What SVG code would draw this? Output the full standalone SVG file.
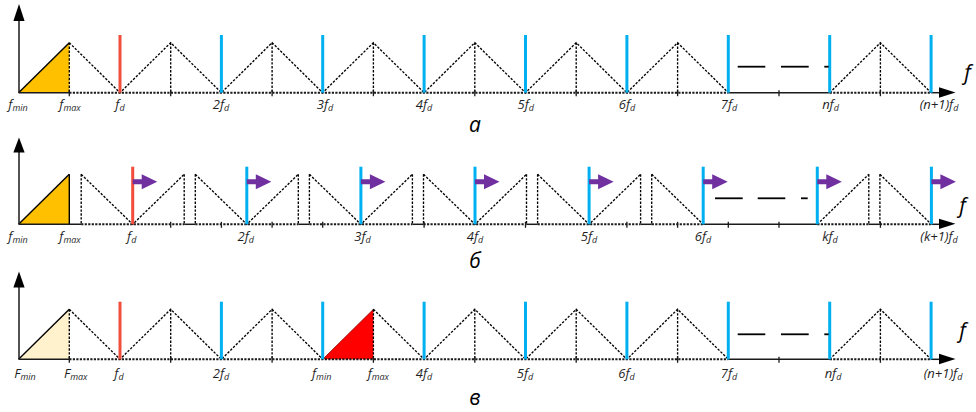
<svg xmlns="http://www.w3.org/2000/svg" width="976" height="412" viewBox="0 0 976 412">
<style>
.ax{stroke:#1a1a1a;stroke-width:1.5;fill:none}
.axd{stroke:#1a1a1a;stroke-width:1.9;stroke-dasharray:2.2 1.3;fill:none}
.dot{stroke:#000;stroke-width:1.35;stroke-dasharray:2.4 1.5;fill:none}
.hyp{stroke:#000;stroke-width:1.4;fill:none}
.tick{stroke:#1a1a1a;stroke-width:1.3}
.blue{stroke:#00B0F0;stroke-width:3}
.red{stroke:#F24C3A;stroke-width:3}
.dash{stroke:#000;stroke-width:1.8}
.pa{fill:#7030A0}
.ah{fill:#000}
.lb{font-family:"Open Sans","Noto Sans","Liberation Sans",sans-serif;font-style:italic;font-size:13px;fill:#1f1f1f;text-anchor:middle}
.lb tspan.s{font-size:9px}
.bf{font-family:"Open Sans","Noto Sans","Liberation Sans",sans-serif;font-style:italic;font-size:21px;fill:#000;text-anchor:middle}
.cap{font-family:"Open Sans","Noto Sans","Liberation Sans",sans-serif;font-style:italic;font-size:21px;fill:#000;text-anchor:middle}
</style>

<!-- Row a -->
<g id="row-a">
  <polygon points="18.6,92.7 69.3,42.7 69.3,92.7" fill="#FFC000"/>
  <line class="hyp" x1="18.6" y1="92.7" x2="69.3" y2="42.7"/>
  <polyline class="dot" points="69.3,42.7 120,92.7 170.7,42.7 221.4,92.7 272.1,42.7 322.7,92.7 373.4,42.7 424.1,92.7 474.8,42.7 525.5,92.7 576.2,42.7 626.9,92.7 677.6,42.7 728.3,92.7"/>
  <polyline class="dot" points="829.7,92.7 880.4,42.7 931.1,92.7"/>
  <g class="dot">
    <line x1="69.3" y1="42.7" x2="69.3" y2="92.7"/><line x1="170.7" y1="42.7" x2="170.7" y2="92.7"/>
    <line x1="272.1" y1="42.7" x2="272.1" y2="92.7"/><line x1="373.4" y1="42.7" x2="373.4" y2="92.7"/>
    <line x1="474.8" y1="42.7" x2="474.8" y2="92.7"/><line x1="576.2" y1="42.7" x2="576.2" y2="92.7"/>
    <line x1="677.6" y1="42.7" x2="677.6" y2="92.7"/><line x1="880.4" y1="42.7" x2="880.4" y2="92.7"/>
  </g>
  <line class="ax" x1="19" y1="92.7" x2="19" y2="20"/>
  <polygon class="ah" points="19,4 13.4,21 24.6,21"/>
  <line class="ax" x1="18.6" y1="92.7" x2="69.3" y2="92.7"/>
  <line class="axd" x1="69.3" y1="92.7" x2="728.3" y2="92.7"/>
  <line class="ax" x1="728.3" y1="92.7" x2="829.7" y2="92.7"/>
  <line class="axd" x1="829.7" y1="92.7" x2="931.1" y2="92.7"/>
  <line class="ax" x1="931.1" y1="92.7" x2="941" y2="92.7"/>
  <polygon class="ah" points="955.5,92.5 939,87.3 939,97.7"/>
  <g class="tick">
    <line x1="69.3" y1="90.2" x2="69.3" y2="96.2"/><line x1="170.7" y1="90.2" x2="170.7" y2="96.2"/>
    <line x1="272.1" y1="90.2" x2="272.1" y2="96.2"/><line x1="373.4" y1="90.2" x2="373.4" y2="96.2"/>
    <line x1="474.8" y1="90.2" x2="474.8" y2="96.2"/><line x1="576.2" y1="90.2" x2="576.2" y2="96.2"/>
    <line x1="677.6" y1="90.2" x2="677.6" y2="96.2"/><line x1="779" y1="90.2" x2="779" y2="96.2"/>
    <line x1="880.4" y1="90.2" x2="880.4" y2="96.2"/>
  </g>
  <line class="red" x1="120" y1="35" x2="120" y2="92.7"/>
  <g class="blue">
    <line x1="221.4" y1="35" x2="221.4" y2="92.7"/><line x1="322.7" y1="35" x2="322.7" y2="92.7"/>
    <line x1="424.1" y1="35" x2="424.1" y2="92.7"/><line x1="525.5" y1="35" x2="525.5" y2="92.7"/>
    <line x1="626.9" y1="35" x2="626.9" y2="92.7"/><line x1="728.3" y1="35" x2="728.3" y2="92.7"/>
    <line x1="829.7" y1="35" x2="829.7" y2="92.7"/><line x1="931.1" y1="35" x2="931.1" y2="92.7"/>
  </g>
  <g class="dash">
    <line x1="737.7" y1="66.7" x2="765.3" y2="66.7"/><line x1="781" y1="66.7" x2="808.7" y2="66.7"/><line x1="824.3" y1="66.7" x2="828.7" y2="66.7"/>
  </g>
  <text class="bf" x="967.5" y="80">f</text>
  <text class="lb" x="18" y="109">f<tspan class="s" dy="2">min</tspan></text>
  <text class="lb" x="70" y="109">f<tspan class="s" dy="2">max</tspan></text>
  <text class="lb" x="120" y="109">f<tspan class="s" dy="2">d</tspan></text>
  <text class="lb" x="221" y="109">2f<tspan class="s" dy="2">d</tspan></text>
  <text class="lb" x="325" y="109">3f<tspan class="s" dy="2">d</tspan></text>
  <text class="lb" x="424" y="109">4f<tspan class="s" dy="2">d</tspan></text>
  <text class="lb" x="525.7" y="109">5f<tspan class="s" dy="2">d</tspan></text>
  <text class="lb" x="627" y="109">6f<tspan class="s" dy="2">d</tspan></text>
  <text class="lb" x="729" y="109">7f<tspan class="s" dy="2">d</tspan></text>
  <text class="lb" x="830.5" y="109">nf<tspan class="s" dy="2">d</tspan></text>
  <text class="lb" x="939" y="109">(n+1)f<tspan class="s" dy="2">d</tspan></text>
  <text class="cap" x="475" y="131.5">а</text>
</g>

<!-- Row b -->
<g id="row-b">
  <polygon points="18.6,224.3 69.3,174.3 69.3,224.3" fill="#FFC000"/>
  <line class="hyp" x1="18.6" y1="224.3" x2="69.3" y2="174.3"/>
  <line class="hyp" x1="69.3" y1="174.3" x2="69.3" y2="224.3"/>
  <g class="dot">
    <polyline points="81.2,174.3 132.7,224.3 184.2,174.3"/>
    <polyline points="195.3,174.3 246.8,224.3 298.3,174.3"/>
    <polyline points="309.4,174.3 360.9,224.3 412.4,174.3"/>
    <polyline points="423.5,174.3 475,224.3 526.5,174.3"/>
    <polyline points="537.6,174.3 589.1,224.3 640.6,174.3"/>
    <polyline points="651.7,174.3 703.2,224.3"/>
    <polyline points="817.3,224.3 868.8,174.3"/>
    <polyline points="879.9,174.3 931.4,224.3"/>
    <line x1="81.2" y1="174.3" x2="81.2" y2="224.3"/><line x1="184.2" y1="174.3" x2="184.2" y2="224.3"/>
    <line x1="195.3" y1="174.3" x2="195.3" y2="224.3"/><line x1="298.3" y1="174.3" x2="298.3" y2="224.3"/>
    <line x1="309.4" y1="174.3" x2="309.4" y2="224.3"/><line x1="412.4" y1="174.3" x2="412.4" y2="224.3"/>
    <line x1="423.5" y1="174.3" x2="423.5" y2="224.3"/><line x1="526.5" y1="174.3" x2="526.5" y2="224.3"/>
    <line x1="537.6" y1="174.3" x2="537.6" y2="224.3"/><line x1="640.6" y1="174.3" x2="640.6" y2="224.3"/>
    <line x1="651.7" y1="174.3" x2="651.7" y2="224.3"/><line x1="868.8" y1="174.3" x2="868.8" y2="224.3"/>
    <line x1="879.9" y1="174.3" x2="879.9" y2="224.3"/>
  </g>
  <line class="ax" x1="19" y1="224.3" x2="19" y2="151"/>
  <polygon class="ah" points="19,137.5 13.4,152.5 24.6,152.5"/>
  <line class="ax" x1="18.6" y1="224.3" x2="81.2" y2="224.3"/>
  <line class="axd" x1="81.2" y1="224.3" x2="184.2" y2="224.3"/>
  <line class="ax" x1="184.2" y1="224.3" x2="195.3" y2="224.3"/>
  <line class="axd" x1="195.3" y1="224.3" x2="298.3" y2="224.3"/>
  <line class="ax" x1="298.3" y1="224.3" x2="309.4" y2="224.3"/>
  <line class="axd" x1="309.4" y1="224.3" x2="412.4" y2="224.3"/>
  <line class="ax" x1="412.4" y1="224.3" x2="423.5" y2="224.3"/>
  <line class="axd" x1="423.5" y1="224.3" x2="526.5" y2="224.3"/>
  <line class="ax" x1="526.5" y1="224.3" x2="537.6" y2="224.3"/>
  <line class="axd" x1="537.6" y1="224.3" x2="640.6" y2="224.3"/>
  <line class="ax" x1="640.6" y1="224.3" x2="651.7" y2="224.3"/>
  <line class="axd" x1="651.7" y1="224.3" x2="703.2" y2="224.3"/>
  <line class="ax" x1="703.2" y1="224.3" x2="817.3" y2="224.3"/>
  <line class="axd" x1="817.3" y1="224.3" x2="868.8" y2="224.3"/>
  <line class="ax" x1="868.8" y1="224.3" x2="879.9" y2="224.3"/>
  <line class="axd" x1="879.9" y1="224.3" x2="931.4" y2="224.3"/>
  <line class="ax" x1="931.4" y1="224.3" x2="941" y2="224.3"/>
  <polygon class="ah" points="955.5,223.7 939,218.7 939,228.9"/>
  <g class="tick">
    <line x1="170.7" y1="221.8" x2="170.7" y2="227.8"/><line x1="221.4" y1="221.8" x2="221.4" y2="227.8"/>
    <line x1="272.1" y1="221.8" x2="272.1" y2="227.8"/><line x1="322.7" y1="221.8" x2="322.7" y2="227.8"/>
    <line x1="424.1" y1="221.8" x2="424.1" y2="227.8"/><line x1="525.5" y1="221.8" x2="525.5" y2="227.8"/>
    <line x1="626.9" y1="221.8" x2="626.9" y2="227.8"/><line x1="677.6" y1="221.8" x2="677.6" y2="227.8"/>
    <line x1="728.3" y1="221.8" x2="728.3" y2="227.8"/><line x1="779" y1="221.8" x2="779" y2="227.8"/>
    <line x1="880.4" y1="221.8" x2="880.4" y2="227.8"/>
  </g>
  <line class="red" x1="132.7" y1="166.7" x2="132.7" y2="224.3"/>
  <g class="blue">
    <line x1="246.8" y1="166.7" x2="246.8" y2="224.3"/><line x1="360.9" y1="166.7" x2="360.9" y2="224.3"/>
    <line x1="475" y1="166.7" x2="475" y2="224.3"/><line x1="589.1" y1="166.7" x2="589.1" y2="224.3"/>
    <line x1="703.2" y1="166.7" x2="703.2" y2="224.3"/><line x1="817.3" y1="166.7" x2="817.3" y2="224.3"/>
    <line x1="931.4" y1="166.7" x2="931.4" y2="224.3"/>
  </g>
  <g class="pa">
    <path d="M132.7,179.2h9v-5l15.5,7.5l-15.5,7.5v-5h-9z"/>
    <path d="M246.8,179.2h9v-5l15.5,7.5l-15.5,7.5v-5h-9z"/>
    <path d="M360.9,179.2h9v-5l15.5,7.5l-15.5,7.5v-5h-9z"/>
    <path d="M475,179.2h9v-5l15.5,7.5l-15.5,7.5v-5h-9z"/>
    <path d="M589.1,179.2h9v-5l15.5,7.5l-15.5,7.5v-5h-9z"/>
    <path d="M703.2,179.2h9v-5l15.5,7.5l-15.5,7.5v-5h-9z"/>
    <path d="M817.3,179.2h9v-5l15.5,7.5l-15.5,7.5v-5h-9z"/>
    <path d="M931.4,179.2h9v-5l15.5,7.5l-15.5,7.5v-5h-9z"/>
  </g>
  <g class="dash">
    <line x1="715" y1="198.3" x2="742.7" y2="198.3"/><line x1="757.7" y1="198.3" x2="785.3" y2="198.3"/><line x1="801" y1="198.3" x2="807.7" y2="198.3"/>
  </g>
  <text class="bf" x="962.5" y="212.5">f</text>
  <text class="lb" x="18" y="241">f<tspan class="s" dy="2">min</tspan></text>
  <text class="lb" x="70" y="241">f<tspan class="s" dy="2">max</tspan></text>
  <text class="lb" x="131.7" y="241">f<tspan class="s" dy="2">d</tspan></text>
  <text class="lb" x="245.7" y="241">2f<tspan class="s" dy="2">d</tspan></text>
  <text class="lb" x="362.5" y="241">3f<tspan class="s" dy="2">d</tspan></text>
  <text class="lb" x="475" y="241">4f<tspan class="s" dy="2">d</tspan></text>
  <text class="lb" x="589" y="241">5f<tspan class="s" dy="2">d</tspan></text>
  <text class="lb" x="703" y="241">6f<tspan class="s" dy="2">d</tspan></text>
  <text class="lb" x="830" y="241">kf<tspan class="s" dy="2">d</tspan></text>
  <text class="lb" x="939" y="241">(k+1)f<tspan class="s" dy="2">d</tspan></text>
  <text class="cap" x="475" y="268">б</text>
</g>

<!-- Row c -->
<g id="row-c">
  <polygon points="18.6,359.3 69.3,309.3 69.3,359.3" fill="#FFF2CC"/>
  <line class="hyp" x1="18.6" y1="359.3" x2="69.3" y2="309.3"/>
  <polygon points="322.7,359.3 373.4,309.3 373.4,359.3" fill="#FF0000"/>
  <line x1="322.7" y1="359.3" x2="373.4" y2="309.3" stroke="#8B0000" stroke-width="0.8"/>
  <polyline class="dot" points="69.3,309.3 120,359.3 170.7,309.3 221.4,359.3 272.1,309.3 322.7,359.3"/>
  <polyline class="dot" points="373.4,309.3 424.1,359.3 474.8,309.3 525.5,359.3 576.2,309.3 626.9,359.3 677.6,309.3 728.3,359.3"/>
  <polyline class="dot" points="829.7,359.3 880.4,309.3 931.1,359.3"/>
  <g class="dot">
    <line x1="69.3" y1="309.3" x2="69.3" y2="359.3"/><line x1="170.7" y1="309.3" x2="170.7" y2="359.3"/>
    <line x1="272.1" y1="309.3" x2="272.1" y2="359.3"/><line x1="373.4" y1="309.3" x2="373.4" y2="359.3"/>
    <line x1="474.8" y1="309.3" x2="474.8" y2="359.3"/><line x1="576.2" y1="309.3" x2="576.2" y2="359.3"/>
    <line x1="677.6" y1="309.3" x2="677.6" y2="359.3"/><line x1="880.4" y1="309.3" x2="880.4" y2="359.3"/>
  </g>
  <line class="ax" x1="19" y1="359.3" x2="19" y2="286"/>
  <polygon class="ah" points="19,271.5 13.4,287.5 24.6,287.5"/>
  <line class="ax" x1="18.6" y1="359.3" x2="69.3" y2="359.3"/>
  <line class="axd" x1="69.3" y1="359.3" x2="728.3" y2="359.3"/>
  <line class="ax" x1="728.3" y1="359.3" x2="829.7" y2="359.3"/>
  <line class="axd" x1="829.7" y1="359.3" x2="931.1" y2="359.3"/>
  <line class="ax" x1="931.1" y1="359.3" x2="941" y2="359.3"/>
  <polygon class="ah" points="955.5,359 939,353.8 939,364.2"/>
  <g class="tick">
    <line x1="69.3" y1="356.8" x2="69.3" y2="362.8"/><line x1="170.7" y1="356.8" x2="170.7" y2="362.8"/>
    <line x1="272.1" y1="356.8" x2="272.1" y2="362.8"/><line x1="373.4" y1="356.8" x2="373.4" y2="362.8"/>
    <line x1="474.8" y1="356.8" x2="474.8" y2="362.8"/><line x1="576.2" y1="356.8" x2="576.2" y2="362.8"/>
    <line x1="677.6" y1="356.8" x2="677.6" y2="362.8"/><line x1="779" y1="356.8" x2="779" y2="362.8"/>
    <line x1="880.4" y1="356.8" x2="880.4" y2="362.8"/>
  </g>
  <line class="red" x1="120" y1="301.7" x2="120" y2="359.3"/>
  <g class="blue">
    <line x1="221.4" y1="301.7" x2="221.4" y2="359.3"/><line x1="322.7" y1="301.7" x2="322.7" y2="359.3"/>
    <line x1="424.1" y1="301.7" x2="424.1" y2="359.3"/><line x1="525.5" y1="301.7" x2="525.5" y2="359.3"/>
    <line x1="626.9" y1="301.7" x2="626.9" y2="359.3"/><line x1="728.3" y1="301.7" x2="728.3" y2="359.3"/>
    <line x1="829.7" y1="301.7" x2="829.7" y2="359.3"/><line x1="931.1" y1="301.7" x2="931.1" y2="359.3"/>
  </g>
  <g class="dash">
    <line x1="737.7" y1="334.3" x2="765.3" y2="334.3"/><line x1="781" y1="334.3" x2="808.7" y2="334.3"/><line x1="824.3" y1="334.3" x2="828.7" y2="334.3"/>
  </g>
  <text class="bf" x="962.5" y="338">f</text>
  <text class="lb" x="25" y="378">F<tspan class="s" dy="2">min</tspan></text>
  <text class="lb" x="75.7" y="378">F<tspan class="s" dy="2">max</tspan></text>
  <text class="lb" x="119" y="378">f<tspan class="s" dy="2">d</tspan></text>
  <text class="lb" x="221" y="378">2f<tspan class="s" dy="2">d</tspan></text>
  <text class="lb" x="321.7" y="378">f<tspan class="s" dy="2">min</tspan></text>
  <text class="lb" x="378.3" y="378">f<tspan class="s" dy="2">max</tspan></text>
  <text class="lb" x="424" y="378">4f<tspan class="s" dy="2">d</tspan></text>
  <text class="lb" x="525" y="378">5f<tspan class="s" dy="2">d</tspan></text>
  <text class="lb" x="626.5" y="378">6f<tspan class="s" dy="2">d</tspan></text>
  <text class="lb" x="729" y="378">7f<tspan class="s" dy="2">d</tspan></text>
  <text class="lb" x="833" y="378">nf<tspan class="s" dy="2">d</tspan></text>
  <text class="lb" x="943" y="378">(n+1)f<tspan class="s" dy="2">d</tspan></text>
  <text class="cap" x="475" y="405">в</text>
</g>
</svg>
